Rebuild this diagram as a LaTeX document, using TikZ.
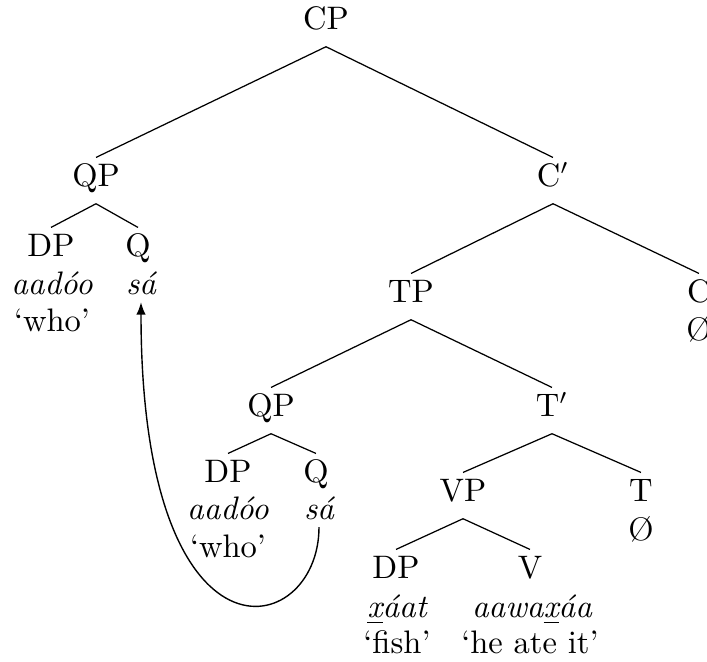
\documentclass[tikz,border=0pt]{standalone}
\usetikzlibrary{arrows.meta}
\begin{document}
\begin{tikzpicture}[x=0.3226pt,y=-0.3226pt,
  every node/.style={font=\fontsize{10.5}{12.6}\selectfont},
  cat/.style={anchor=base,inner xsep=0pt,inner ysep=2.5pt,text height=6.83pt,text depth=2.7pt},
  word/.style={anchor=base,inner sep=0pt,font=\fontsize{10.5}{12.6}\selectfont\itshape},
  gloss/.style={anchor=base,inner sep=0pt},
  branch/.style={line width=0.4pt},
  move/.style={line width=0.45pt,-{Latex[length=4pt,width=3pt]}},
]
\useasboundingbox (0,0) rectangle (707,662);
% categories
\node[cat] (cp)  at (326,30)  {CP};
\node[cat] (qp1) at (96,187)  {QP};
\node[cat] (cb)  at (553,187) {C$'$};
\node[cat] (dp1) at (51,257)  {DP};
\node[cat] (q1)  at (138,257) {Q};
\node[cat] (tp)  at (411,303) {TP};
\node[cat] (c)   at (699,303) {C};
\node[cat] (qp2) at (271,417) {QP};
\node[cat] (tb)  at (552,417) {T$'$};
\node[cat] (dp2) at (228,483) {DP};
\node[cat] (q2)  at (316,483) {Q};
\node[cat] (vp)  at (463,502) {VP};
\node[cat] (t)   at (641,502) {T};
\node[cat] (dp3) at (396,579) {DP};
\node[cat] (v)   at (530,579) {V};
% words and glosses
\node[word] (w1)  at (52,295)  {aad\'oo};
\node[gloss] (g1) at (52,332)  {\textquoteleft who\textquoteright};
\node[word,inner ysep=2pt] (sa1) at (141,295) {s\'a};
\node[gloss] (cnull) at (699,341) {\O};
\node[word] (w2)  at (228,520) {aad\'oo};
\node[gloss] (g2) at (228,558) {\textquoteleft who\textquoteright};
\node[word,inner ysep=2pt] (sa2) at (319,520) {s\'a};
\node[gloss] (tnull) at (641,541) {\O};
\node[word] (w3)  at (397,618) {\underline{x}\'aat};
\node[gloss] (g3) at (397,654) {\textquoteleft fish\textquoteright};
\node[word] (w4)  at (532,618) {aawa\underline{x}\'aa};
\node[gloss] (g4) at (530,654) {\textquoteleft he ate it\textquoteright};
% branches
\draw[branch] (cp.south) -- (qp1.north);
\draw[branch] (cp.south) -- (cb.north);
\draw[branch] (qp1.south) -- (dp1.north);
\draw[branch] (qp1.south) -- (q1.north);
\draw[branch] (cb.south) -- (tp.north);
\draw[branch] (cb.south) -- (c.north);
\draw[branch] (tp.south) -- (qp2.north);
\draw[branch] (tp.south) -- (tb.north);
\draw[branch] (qp2.south) -- (dp2.north);
\draw[branch] (qp2.south) -- (q2.north);
\draw[branch] (tb.south) -- (vp.north);
\draw[branch] (tb.south) -- (t.north);
\draw[branch] (vp.south) -- (dp3.north);
\draw[branch] (vp.south) -- (v.north);
% movement arrow
\draw[move] (sa2.south) .. controls +(0,113) and +(0,378) .. (sa1.south);
\end{tikzpicture}
\end{document}
